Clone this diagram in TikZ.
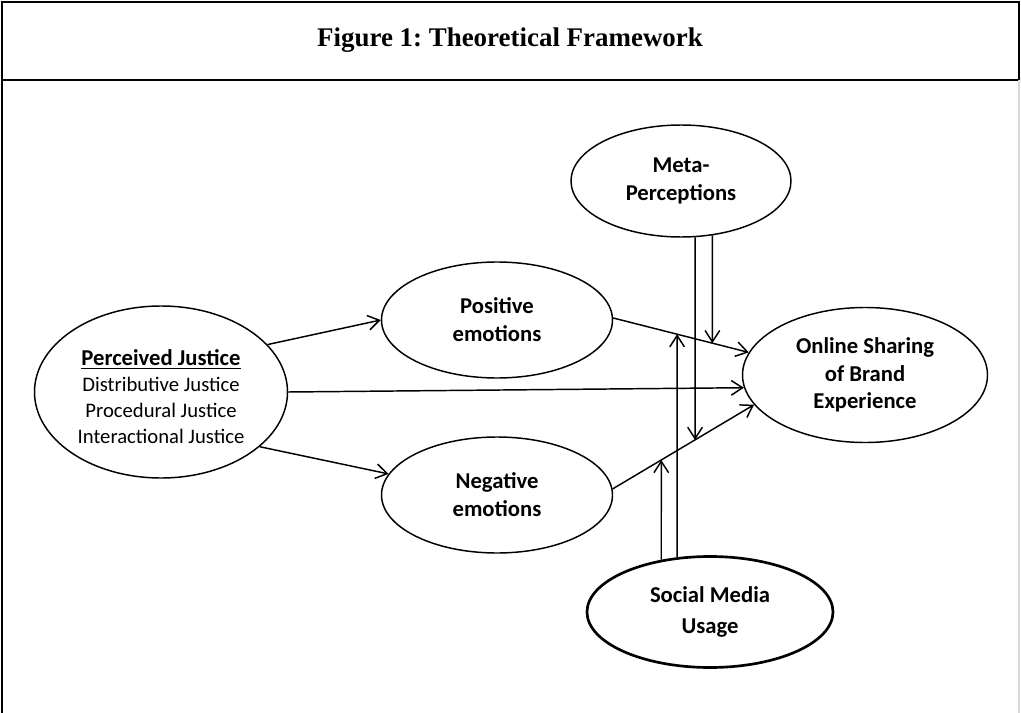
\documentclass[tikz,border=0pt]{standalone}
\usepackage{fontspec}
\setmainfont{Carlito}
\newfontfamily\titlefont{Liberation Serif}
\usetikzlibrary{shapes.geometric,arrows.meta,calc}
\frenchspacing
\begin{document}
\begin{tikzpicture}[x=0.75pt,y=-0.75pt,
  construct/.style={ellipse,draw,line width=1.1pt,inner sep=0pt,align=center,
    font=\fontsize{17}{20.5}\selectfont\bfseries},
  link/.style={line width=1.1pt,-{Straight Barb[length=8.5pt,width=11pt,line width=1.1pt]}},
  frame/.style={line width=1.6pt}]
\useasboundingbox (0,0) rectangle (1021,713);
% frame
\draw[frame] (2,713) -- (2,2) -- (1019,2) -- (1019,80);
\draw[frame] (2,80) -- (1019,80);
\draw[line width=1pt,black!15] (1019,80) -- (1019,713);
\node (title) at (510,40) {\titlefont\bfseries\fontsize{20.2}{24}\selectfont Figure 1: Theoretical Framework};
% constructs
\node[construct,minimum width=189.75pt,minimum height=129pt] (PJ) at (161,392) {};
\node[align=center,font=\fontsize{15.5}{19.5}\selectfont] (PJtext) at (161,397)
  {\underline{\fontsize{17}{19.5}\selectfont\bfseries Perceived Justice}\\Distributive Justice\\Procedural Justice\\Interactional Justice};
\node[construct,minimum width=173.25pt,minimum height=87pt,font=\fontsize{17}{21}\selectfont\bfseries] (Pos) at (497,320) {Positive\\emotions};
\node[construct,minimum width=173.25pt,minimum height=87pt,font=\fontsize{17}{21}\selectfont\bfseries] (Neg) at (497,495) {Negative\\emotions};
\node[construct,minimum width=165pt,minimum height=84pt] (Meta) at (681,181) {Meta-\\Perceptions};
\node[construct,minimum width=183.75pt,minimum height=101.25pt] (Online) at (865,375) {Online Sharing\\of Brand\\Experience};
\node[construct,line width=2pt,minimum width=184.5pt,minimum height=83.25pt,font=\fontsize{17}{23}\selectfont\bfseries] (Social) at (710,612) {Social Media\\Usage};
% main paths
\coordinate (pA) at (Pos.1);
\coordinate (pB) at (Online.169.2);
\coordinate (nA) at (Neg.3);
\coordinate (nB) at (Online.195.8);
\draw[link] (PJ.24.9) -- (Pos.180);
\draw[link] (PJ.-29.7) -- (Neg.169.1);
\draw[link] (PJ.-0.3) -- (Online.186.3);
\draw[link] (pA) -- (pB);
\draw[link] (nA) -- (nB);
% moderators
\coordinate (mt1) at (Meta.-76.8);
\coordinate (mt2) at (Meta.-60);
\coordinate (mb1) at (mt1 |- Social.south);
\coordinate (mb2) at (mt2 |- Social.south);
\coordinate (m1) at (intersection of mt1--mb1 and nA--nB);
\coordinate (m2) at (intersection of mt2--mb2 and pA--pB);
\draw[link] (mt1) -- (m1);
\draw[link] (mt2) -- (m2);
\coordinate (st1) at (Social.133.2);
\coordinate (st2) at (Social.121.7);
\coordinate (sb1) at (st1 |- Meta.north);
\coordinate (sb2) at (st2 |- Meta.north);
\coordinate (s1) at (intersection of st1--sb1 and nA--nB);
\coordinate (s2) at (intersection of st2--sb2 and pA--pB);
\draw[link] (st1) -- (s1);
\draw[link] (st2) -- (s2);
\end{tikzpicture}
\end{document}
